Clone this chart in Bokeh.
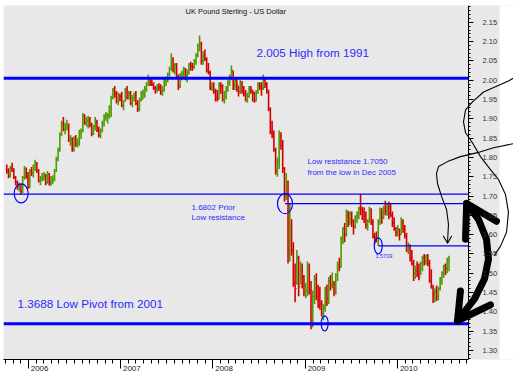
import numpy as np
import pandas as pd
from bokeh.plotting import figure
from bokeh.models import Range1d, FixedTicker, CustomJSTickFormatter, Label, ColumnDataSource, LinearAxis
from bokeh.embed import file_html
from bokeh.resources import INLINE

# ---------------- data (weekly GBP/USD bars) ----------------
first_week = "2005-10-07"
open0 = 1.770
high = [
    1.782, 1.772, 1.778, 1.786, 1.772, 1.752, 1.740, 1.735, 1.732, 1.752, 1.778, 1.774, 1.762,
    # 2006
    1.770, 1.775, 1.782, 1.794, 1.788, 1.770, 1.752, 1.760, 1.762, 1.758, 1.765, 1.760, 1.752,
    1.754, 1.770, 1.802, 1.825, 1.865, 1.895, 1.905, 1.890, 1.898, 1.888, 1.858, 1.852, 1.855,
    1.858, 1.850, 1.872, 1.875, 1.915, 1.912, 1.905, 1.908, 1.905, 1.890, 1.885, 1.905, 1.898,
    1.880, 1.875, 1.895, 1.912, 1.918, 1.915, 1.935, 1.960, 1.980, 1.985, 1.972, 1.968, 1.965,
    # 2007
    1.970, 1.948, 1.980, 1.985, 1.972, 1.972, 1.962, 1.968, 1.972, 1.948, 1.955, 1.972, 1.976,
    1.985, 1.995, 2.015, 2.008, 2.002, 1.995, 1.985, 1.990, 1.992, 1.990, 1.985, 2.005, 2.010,
    2.020, 2.035, 2.070, 2.060, 2.045, 2.045, 2.015, 2.018, 2.025, 2.035, 2.032, 2.028, 2.045,
    2.048, 2.045, 2.055, 2.070, 2.095, 2.116, 2.100, 2.075, 2.080, 2.060, 2.045, 2.025, 1.995,
    # 2008
    1.995, 1.978, 1.975, 1.995, 1.995, 1.990, 1.972, 1.985, 2.000, 2.015, 2.038, 2.025, 2.008,
    2.005, 1.985, 2.002, 1.998, 1.985, 1.975, 1.968, 1.985, 1.985, 1.975, 1.970, 1.975, 1.995,
    1.995, 1.995, 2.015, 2.005, 1.995, 1.975, 1.930, 1.895, 1.870, 1.825, 1.800, 1.870, 1.865,
    1.845, 1.775, 1.760, 1.740, 1.680, 1.640, 1.580, 1.525, 1.560, 1.545, 1.530, 1.525, 1.495,
    # 2009
    1.475, 1.530, 1.525, 1.480, 1.455, 1.495, 1.500, 1.470, 1.465, 1.430, 1.420, 1.465, 1.470,
    1.490, 1.495, 1.502, 1.480, 1.500, 1.530, 1.540, 1.595, 1.620, 1.630, 1.665, 1.662, 1.660,
    1.660, 1.640, 1.650, 1.660, 1.672, 1.705, 1.672, 1.670, 1.660, 1.640, 1.672, 1.668, 1.640,
    1.605, 1.608, 1.640, 1.670, 1.668, 1.675, 1.688, 1.680, 1.685, 1.680, 1.660, 1.645, 1.620,
    # 2010
    1.625, 1.615, 1.645, 1.640, 1.625, 1.605, 1.580, 1.575, 1.560, 1.535, 1.520, 1.530, 1.525,
    1.530, 1.545, 1.550, 1.548, 1.550, 1.535, 1.510, 1.470, 1.460, 1.468, 1.465, 1.490, 1.505,
    1.522, 1.525, 1.540, 1.545,
]
low = [
    1.758, 1.746, 1.748, 1.762, 1.744, 1.728, 1.716, 1.712, 1.704, 1.708, 1.742, 1.745, 1.718,
    # 2006
    1.720, 1.752, 1.748, 1.765, 1.760, 1.735, 1.728, 1.738, 1.740, 1.728, 1.732, 1.727, 1.726,
    1.732, 1.738, 1.762, 1.790, 1.815, 1.855, 1.868, 1.860, 1.870, 1.840, 1.830, 1.815, 1.815,
    1.828, 1.825, 1.830, 1.848, 1.865, 1.885, 1.880, 1.875, 1.878, 1.855, 1.858, 1.870, 1.866,
    1.852, 1.850, 1.865, 1.880, 1.895, 1.888, 1.900, 1.905, 1.950, 1.955, 1.940, 1.935, 1.945,
    # 2007
    1.930, 1.922, 1.945, 1.950, 1.950, 1.935, 1.930, 1.945, 1.935, 1.918, 1.920, 1.945, 1.950,
    1.955, 1.970, 1.985, 1.985, 1.985, 1.975, 1.965, 1.968, 1.972, 1.962, 1.960, 1.970, 1.985,
    1.995, 2.010, 2.025, 2.020, 2.015, 2.005, 1.975, 1.980, 2.000, 2.005, 2.000, 1.995, 2.015,
    2.025, 2.025, 2.030, 2.040, 2.060, 2.075, 2.040, 2.040, 2.050, 2.020, 2.015, 1.975, 1.972,
    # 2008
    1.965, 1.945, 1.945, 1.950, 1.965, 1.945, 1.940, 1.950, 1.970, 1.985, 2.000, 1.975, 1.975,
    1.970, 1.958, 1.965, 1.965, 1.958, 1.945, 1.942, 1.955, 1.965, 1.945, 1.942, 1.945, 1.965,
    1.975, 1.960, 1.975, 1.980, 1.965, 1.920, 1.860, 1.850, 1.815, 1.755, 1.750, 1.770, 1.820,
    1.760, 1.685, 1.690, 1.525, 1.530, 1.545, 1.465, 1.425, 1.470, 1.440, 1.470, 1.460, 1.440,
    # 2009
    1.435, 1.440, 1.445, 1.355, 1.360, 1.420, 1.430, 1.410, 1.405, 1.388, 1.378, 1.400, 1.415,
    1.420, 1.455, 1.460, 1.440, 1.445, 1.480, 1.505, 1.515, 1.575, 1.580, 1.595, 1.620, 1.625,
    1.620, 1.600, 1.615, 1.630, 1.640, 1.650, 1.638, 1.630, 1.615, 1.610, 1.630, 1.625, 1.590,
    1.575, 1.580, 1.571, 1.625, 1.628, 1.640, 1.650, 1.648, 1.640, 1.645, 1.620, 1.610, 1.595,
    # 2010
    1.595, 1.585, 1.600, 1.605, 1.590, 1.555, 1.550, 1.530, 1.520, 1.480, 1.485, 1.490, 1.482,
    1.495, 1.505, 1.520, 1.522, 1.518, 1.475, 1.460, 1.423, 1.425, 1.428, 1.430, 1.455, 1.470,
    1.488, 1.495, 1.500, 1.505,
]
close = [
    1.766, 1.752, 1.772, 1.770, 1.748, 1.735, 1.722, 1.728, 1.712, 1.748, 1.770, 1.750, 1.722,
    # 2006
    1.765, 1.760, 1.778, 1.782, 1.765, 1.740, 1.742, 1.748, 1.752, 1.735, 1.758, 1.734, 1.738,
    1.745, 1.765, 1.795, 1.820, 1.860, 1.888, 1.872, 1.880, 1.885, 1.845, 1.850, 1.820, 1.850,
    1.835, 1.842, 1.865, 1.870, 1.908, 1.890, 1.895, 1.898, 1.885, 1.860, 1.880, 1.892, 1.870,
    1.858, 1.868, 1.888, 1.905, 1.908, 1.910, 1.930, 1.955, 1.975, 1.965, 1.945, 1.962, 1.958,
    # 2007
    1.935, 1.945, 1.975, 1.955, 1.965, 1.940, 1.955, 1.962, 1.940, 1.925, 1.948, 1.965, 1.968,
    1.978, 1.990, 2.005, 1.995, 1.988, 1.980, 1.978, 1.985, 1.982, 1.970, 1.975, 1.998, 2.005,
    2.015, 2.030, 2.055, 2.030, 2.040, 2.010, 1.985, 2.012, 2.018, 2.030, 2.008, 2.020, 2.040,
    2.038, 2.035, 2.050, 2.065, 2.090, 2.095, 2.050, 2.065, 2.055, 2.025, 2.020, 1.980, 1.985,
    # 2008
    1.970, 1.955, 1.950, 1.988, 1.985, 1.950, 1.958, 1.975, 1.995, 2.010, 2.025, 1.985, 1.998,
    1.988, 1.970, 1.993, 1.970, 1.965, 1.950, 1.958, 1.978, 1.975, 1.968, 1.948, 1.968, 1.990,
    1.985, 1.980, 2.000, 1.990, 1.975, 1.925, 1.865, 1.860, 1.820, 1.765, 1.790, 1.855, 1.830,
    1.770, 1.700, 1.735, 1.560, 1.620, 1.560, 1.475, 1.460, 1.540, 1.465, 1.505, 1.490, 1.450,
    # 2009
    1.455, 1.510, 1.455, 1.370, 1.440, 1.485, 1.440, 1.430, 1.420, 1.395, 1.410, 1.450, 1.435,
    1.480, 1.470, 1.470, 1.455, 1.495, 1.520, 1.515, 1.590, 1.615, 1.600, 1.650, 1.635, 1.652,
    1.635, 1.620, 1.645, 1.650, 1.668, 1.665, 1.660, 1.650, 1.625, 1.635, 1.665, 1.630, 1.595,
    1.592, 1.590, 1.632, 1.655, 1.645, 1.665, 1.660, 1.670, 1.655, 1.650, 1.630, 1.615, 1.605,
    # 2010
    1.615, 1.600, 1.630, 1.615, 1.598, 1.560, 1.565, 1.540, 1.525, 1.500, 1.505, 1.497, 1.490,
    1.525, 1.540, 1.530, 1.545, 1.525, 1.480, 1.462, 1.445, 1.452, 1.440, 1.460, 1.482, 1.500,
    1.518, 1.512, 1.535, 1.538,
]

y_ticks = [1.30, 1.35, 1.40, 1.45, 1.50, 1.55, 1.60, 1.65, 1.70, 1.75, 1.80, 1.85, 1.90, 1.95, 2.00, 2.05, 2.10, 2.15]
y_tick_labels = ["1.30", "1.35", "1.40", "1.45", "1.50", "1.55", "1.60", "1.65", "1.70", "1.75",
                 "1.80", "1.85", "1.90", "1.95", "2.00", "2.05", "2.10", "2.15"]
years = [2006, 2007, 2008, 2009, 2010]

# support / resistance levels
level_names = ["high_1991", "low_res", "prior_low", "oct09_low", "pivot_2001"]
level_values = [2.005, 1.7050, 1.6802, 1.5709, 1.3688]
level_start = [None, None, "2008-10-12", "2009-10-16", None]   # None: whole width

# circled points (date, price)
circle_dates = ["2005-12-03", "2008-10-12", "2009-10-16", "2009-03-18"]
circle_prices = [1.707, 1.6802, 1.5709, 1.3700]

# ---------------- helpers ----------------
BASE = pd.Timestamp("2006-01-01")
PX_PER_YEAR = 92.3          # screen layout of the original chart
PRICE_PER_PX = 0.0025773


def yms(y):
    return (BASE + pd.Timedelta(days=(y - 2006) * 365.25)).value / 1e6


def dms(s):
    return pd.Timestamp(s).value / 1e6


def px_year(px):
    return 2006 + (px - 28) / PX_PER_YEAR


def px_price(py):
    return 2.15 - (py - 22) * PRICE_PER_PX


n = min(len(high), len(low), len(close))
high, low, close = high[:n], low[:n], close[:n]
dates = pd.date_range(first_week, periods=n, freq="7D")
x = dates.values.astype("int64") / 1e6
opens = [open0] + close[:-1]
colors = ["#4e9a00" if c >= o else "#d40000" for o, c in zip(opens, close)]
tick = 4.2 * 86400000.0

src = ColumnDataSource(dict(x=x, xl=x - tick, xr=x + tick, high=high, low=low,
                            open=opens, close=close, color=colors))

x_start = yms(px_year(3))
x_end = yms(px_year(513))
x_axis_pos = yms(px_year(468))
x_grey_end = yms(px_year(499))
y_lo = px_price(361)
y_hi = px_price(5)

p = figure(width=513, height=375, x_axis_type="datetime", y_axis_location=None,
           x_range=Range1d(x_start, x_end), y_range=Range1d(y_lo, y_hi),
           toolbar_location=None, output_backend="svg",
           min_border_left=3, min_border_top=5, min_border_right=0, min_border_bottom=14)
p.background_fill_color = "#e8e8e8"
p.border_fill_color = "white"
p.outline_line_color = None
p.grid.visible = False

# white strip right of the axis area
p.quad(left=[x_grey_end], right=[x_end], bottom=[y_lo], top=[y_hi],
       fill_color="white", line_color=None)

# x axis
NBSP = "\u00a0" * 10
xa = p.xaxis[0]
xa.bounds = (x_start, x_axis_pos)
xa.ticker = FixedTicker(ticks=[dms(f"{y}-01-01") for y in years],
                        minor_ticks=[d.value / 1e6 for d in pd.date_range("2005-10-01", "2010-10-01", freq="MS")])
xa.formatter = CustomJSTickFormatter(args=dict(pad=NBSP),
                                     code="return pad + new Date(tick).getUTCFullYear().toString();")
xa.major_tick_in = 0
xa.major_tick_out = 9
xa.minor_tick_in = 0
xa.minor_tick_out = 4
xa.axis_line_color = "black"
xa.major_tick_line_color = "black"
xa.minor_tick_line_color = "black"
xa.major_label_standoff = -5
xa.major_label_text_font = "Liberation Sans"
xa.major_label_text_font_size = "8px"
xa.major_label_text_color = "#222222"

# y axis drawn at the right edge of the price area
ya = LinearAxis(fixed_location=x_axis_pos)
ya.ticker = FixedTicker(ticks=y_ticks, minor_ticks=list(np.round(np.arange(1.27, 2.20, 0.01), 2)))
ya.major_label_overrides = {t: s for t, s in zip(y_ticks, y_tick_labels)}
ya.major_tick_in = 0
ya.major_tick_out = 5
ya.minor_tick_in = 0
ya.minor_tick_out = 2
ya.axis_line_color = "black"
ya.major_label_standoff = 9
ya.major_label_text_font = "Liberation Sans"
ya.major_label_text_font_size = "7.5px"
ya.major_label_text_color = "#333333"
p.add_layout(ya, "right")

# bars
p.segment(x0="x", y0="low", x1="x", y1="high", source=src, line_color="color", line_width=1.6)
p.segment(x0="xl", y0="open", x1="x", y1="open", source=src, line_color="color", line_width=1)
p.segment(x0="x", y0="close", x1="xr", y1="close", source=src, line_color="color", line_width=1)

# levels
BLUE = "#0000ff"
lx0 = [x_start if s is None else dms(s) for s in level_start]
lw = [3, 1.3, 1.3, 1.3, 3]
p.segment(x0=lx0, y0=level_values, x1=[x_axis_pos] * len(level_values), y1=level_values,
          line_color=BLUE, line_width=lw)

p.ellipse(x=[dms(d) for d in circle_dates], y=circle_prices,
          width=[14, 15, 8, 7], height=[19, 20, 16, 15],
          width_units="screen", height_units="screen",
          fill_color=None, line_color=BLUE, line_width=1.2)

# texts
TXT = "#2b2bff"
FONT = "Liberation Sans"
texts = [
    ("UK Pound Sterling - US Dollar", 2007.701, 2.177, "7.5px", "#111111"),
    ("2.005 High from 1991", 2008.470, 2.0727, "11.7px", TXT),
    ("1.3688 Low Pivot from 2001", 2005.881, 1.4206, "11.7px", TXT),
    ("Low resistance 1.7050", 2009.023, 1.7892, "8px", TXT),
    (" from the low in Dec 2005", 2009.023, 1.7608, "8px", TXT),
    ("1.6802 Prior", 2007.766, 1.6706, "8px", TXT),
    ("Low resistance", 2007.766, 1.6448, "8px", TXT),
    ("1.5709", 2009.759, 1.5443, "5.5px", TXT),
]
for t, tx, ty, fs, col in texts:
    p.add_layout(Label(x=yms(tx), y=ty, text=t, text_font=FONT, text_font_size=fs,
                       text_color=col, text_align="left", text_baseline="middle"))

# hand-drawn arrows (year fraction, price)
curve_a = [(2011.255, 2.0057), (2011.200, 1.9979), (2010.930, 1.9696), (2010.810, 1.9438),
           (2010.735, 1.9232), (2010.713, 1.8923), (2010.735, 1.8639), (2010.810, 1.8381),
           (2010.897, 1.8021), (2011.005, 1.7686), (2011.092, 1.7428), (2011.168, 1.7041),
           (2011.200, 1.6577), (2011.179, 1.6062), (2011.114, 1.5701), (2011.049, 1.5469)]
curve_b = [(2011.255, 1.8356), (2011.038, 1.8253), (2010.864, 1.8124), (2010.680, 1.8021),
           (2010.540, 1.7892), (2010.442, 1.7763), (2010.420, 1.7583), (2010.431, 1.7325),
           (2010.475, 1.6990), (2010.529, 1.6655), (2010.550, 1.6268), (2010.540, 1.5804)]
head_b = [(2010.496, 1.5959), (2010.540, 1.5778), (2010.583, 1.5959)]
shaft_c = [(2010.747, 1.6809), (2010.875, 1.6397), (2010.962, 1.5881), (2010.984, 1.5366),
           (2010.940, 1.4851), (2010.832, 1.4335), (2010.648, 1.3768)]
head_c1 = [(2010.735, 1.5881), (2010.747, 1.6809), (2011.070, 1.6345)]
head_c2 = [(2010.680, 1.4541), (2010.648, 1.3768), (2011.005, 1.4180)]

paths = [curve_a, curve_b, head_b, shaft_c, head_c1, head_c2]
widths = [1.1, 1.1, 1.1, 7, 7, 7]
p.multi_line(xs=[[yms(a) for a, _ in pth] for pth in paths],
             ys=[[b for _, b in pth] for pth in paths],
             line_color="black", line_width=widths, line_cap="round", line_join="round")

open("out.html", "w").write(file_html(p, INLINE))
